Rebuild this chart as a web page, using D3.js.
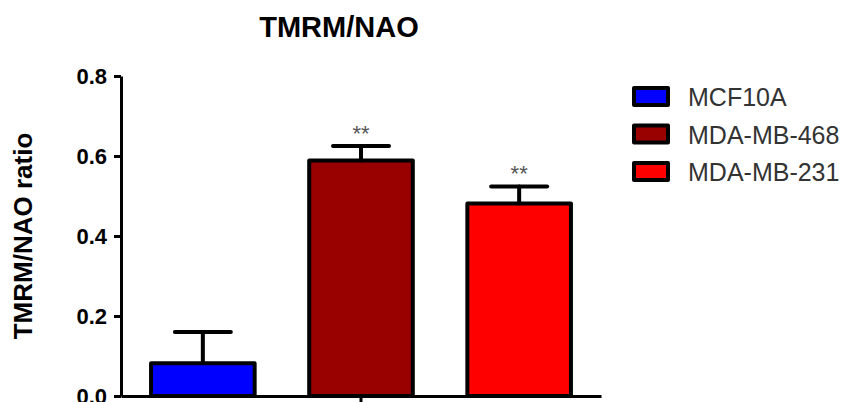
<!DOCTYPE html>
<html>
<head>
<meta charset="utf-8">
<script src="https://cdn.jsdelivr.net/npm/d3@7"></script>
<style>
  html, body { margin: 0; padding: 0; background: #fff; }
  svg { display: block; }
</style>
</head>
<body>
<svg id="chart" width="846" height="402"></svg>
<script>
const categories = ["MCF10A", "MDA-MB-468", "MDA-MB-231"];
const means = [0.082, 0.589, 0.481];
const errors = [0.078, 0.036, 0.043];
const significance = ["", "**", "**"];
const colors = ["#0000ff", "#990000", "#ff0000"];
const yTicks = [0.0, 0.2, 0.4, 0.6, 0.8];
const title = "TMRM/NAO";
const yLabel = "TMRM/NAO ratio";

const svg = d3.select("#chart");
const font = "'Liberation Sans', Arial, sans-serif";

const x = d3.scaleBand().domain(categories).range([121, 601])
  .paddingInner(0.345).paddingOuter(0.19);
const y = d3.scaleLinear().domain([0, 0.8]).range([396, 76]);

// Title
svg.append("text").attr("x", 339).attr("y", 36.5)
  .attr("text-anchor", "middle").attr("font-family", font)
  .attr("font-weight", "bold").attr("font-size", 29).attr("fill", "#000")
  .text(title);

// Y label
svg.append("text").attr("transform", "translate(32,236) rotate(-90)")
  .attr("text-anchor", "middle").attr("font-family", font)
  .attr("font-weight", "bold").attr("font-size", 26).attr("fill", "#000")
  .text(yLabel);

// Y axis
const yAxis = d3.axisLeft(y).tickValues(yTicks).tickFormat(d3.format(".1f"))
  .tickSize(7).tickSizeOuter(0).tickPadding(7);
const gy = svg.append("g").attr("transform", "translate(121,0)").call(yAxis);
gy.select(".domain").attr("stroke", "#000").attr("stroke-width", 3);
gy.selectAll(".tick line").attr("stroke", "#000").attr("stroke-width", 3);
gy.selectAll(".tick text").attr("font-family", font).attr("font-weight", "bold")
  .attr("font-size", 22).attr("fill", "#000");

// X axis (single centered tick, no labels)
const xAxis = d3.axisBottom(x).tickValues([categories[1]]).tickFormat("")
  .tickSize(8).tickSizeOuter(0);
const gx = svg.append("g").attr("transform", "translate(0,396)").call(xAxis);
gx.select(".domain").attr("stroke", "#000").attr("stroke-width", 3);
gx.selectAll(".tick line").attr("stroke", "#000").attr("stroke-width", 3);

// Bars
const bars = svg.append("g");
bars.selectAll("rect").data(categories).join("rect")
  .attr("x", d => x(d))
  .attr("y", (d, i) => y(means[i]))
  .attr("width", x.bandwidth())
  .attr("height", (d, i) => y(0) - y(means[i]))
  .attr("fill", (d, i) => colors[i])
  .attr("stroke", "#000").attr("stroke-width", 4)
  .attr("stroke-linejoin", "round");

// Error bars (upper only)
const capHalf = 28;
const eb = svg.append("g").attr("stroke", "#000").attr("stroke-width", 4)
  .attr("stroke-linecap", "round");
categories.forEach((c, i) => {
  const cx = x(c) + x.bandwidth() / 2;
  eb.append("line").attr("x1", cx).attr("x2", cx)
    .attr("y1", y(means[i])).attr("y2", y(means[i] + errors[i]));
  eb.append("line").attr("x1", cx - capHalf).attr("x2", cx + capHalf)
    .attr("y1", y(means[i] + errors[i])).attr("y2", y(means[i] + errors[i]));
});

// Significance stars
svg.append("g").selectAll("text").data(categories).join("text")
  .attr("x", d => x(d) + x.bandwidth() / 2)
  .attr("y", (d, i) => y(means[i] + errors[i]) - 5)
  .attr("text-anchor", "middle").attr("font-family", font)
  .attr("font-size", 22).attr("fill", "#555")
  .text((d, i) => significance[i]);

// Legend
const legend = svg.append("g");
categories.forEach((c, i) => {
  const ly = 88 + i * 37.5;
  legend.append("rect").attr("x", 634).attr("y", ly).attr("width", 34).attr("height", 17)
    .attr("fill", colors[i]).attr("stroke", "#000").attr("stroke-width", 4)
    .attr("stroke-linejoin", "round");
  legend.append("text").attr("x", 688).attr("y", ly + 18)
    .attr("font-family", font).attr("font-size", 25).attr("fill", "#333")
    .text(c);
});
</script>
</body>
</html>
